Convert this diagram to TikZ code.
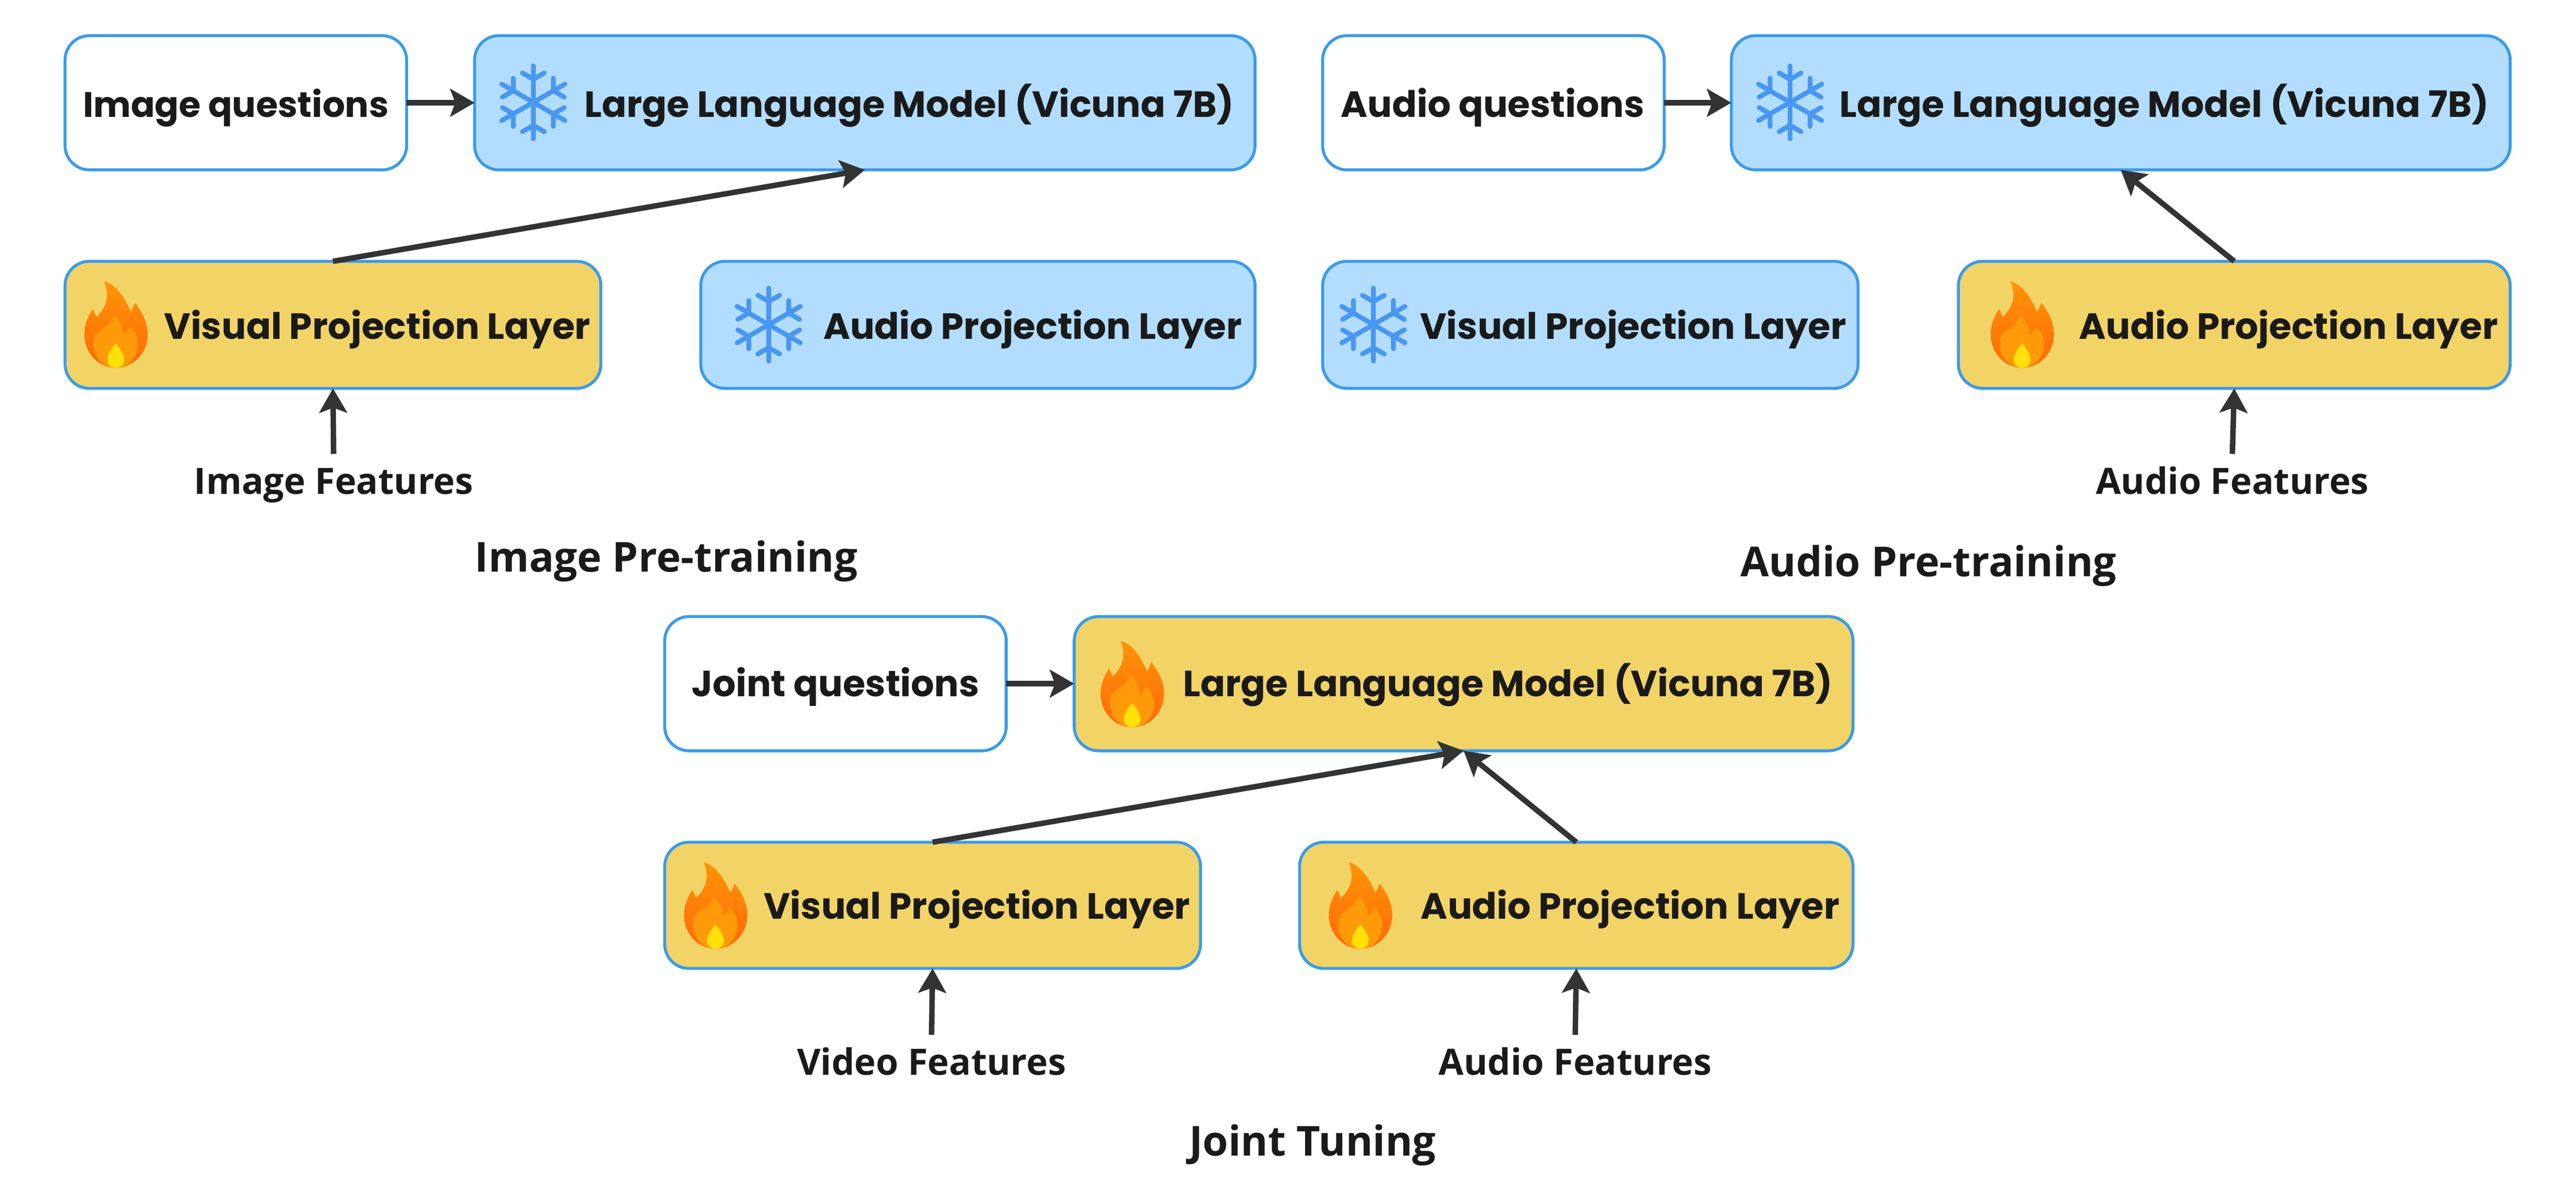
\documentclass[tikz,border=0pt]{standalone}
\usepackage{fontspec}
\usetikzlibrary{arrows.meta}
\newfontfamily\boxfont{Poppins}
\newfontfamily\capfont{Open Sans}
\definecolor{edgeblue}{HTML}{3A9BEB}
\definecolor{iceblue}{HTML}{B3DDFF}
\definecolor{flakeblue}{HTML}{4A97F2}
\definecolor{warmgold}{HTML}{F2D366}
\definecolor{arrowgray}{HTML}{333333}
\definecolor{inkblack}{HTML}{1A1A1A}
\definecolor{flametop}{HTML}{FF9408}
\definecolor{flamelow}{HTML}{FF6A08}
\definecolor{flamemid}{HTML}{FF9A0A}
\definecolor{flamecore}{HTML}{FFE008}

\tikzset{
    pics/flame/.style={code={
        \path[top color=flametop, bottom color=flamelow]
            (-.28,-1.02) .. controls (.02,-.95) and (.22,-.6) .. (.36,-.29)
            -- (.46,-.51) .. controls (.62,-.3) and (.76,-.05) .. (.76,.24)
            .. controls (.76,.7) and (.4,1.04) .. (0,1.04)
            .. controls (-.4,1.04) and (-.75,.7) .. (-.75,.24)
            .. controls (-.75,0) and (-.66,-.2) .. (-.55,-.36)
            -- (-.46,-.17) .. controls (-.3,-.33) and (-.1,-.6) .. (-.28,-1.02) -- cycle;
        \fill[flamemid]
            (-.04,-.22) .. controls (.08,-.1) and (.17,.08) .. (.2,.27)
            .. controls (.25,.18) and (.3,.1) .. (.36,.07)
            .. controls (.46,.2) and (.52,.32) .. (.52,.46)
            .. controls (.52,.8) and (.3,1.04) .. (0,1.04)
            .. controls (-.3,1.04) and (-.53,.8) .. (-.53,.46)
            .. controls (-.53,.3) and (-.48,.22) .. (-.44,.2)
            .. controls (-.3,.1) and (-.12,0) .. (-.04,-.22) -- cycle;
        \fill[flamecore]
            (0,.46) .. controls (.1,.58) and (.2,.72) .. (.2,.84)
            .. controls (.2,.97) and (.1,1.04) .. (0,1.04)
            .. controls (-.1,1.04) and (-.2,.97) .. (-.2,.84)
            .. controls (-.2,.72) and (-.1,.58) .. (0,.46) -- cycle;
    }},
    pics/flake/.style={code={
        \foreach \a in {90,150,210,270,330,30} {
            \draw[flakeblue, line width=.115cm, line cap=round, rotate=\a]
                (0,0) -- (.87,0)
                (.55,0) -- ++(60:.3)
                (.55,0) -- ++(-60:.3);
        }
    }}
}

\begin{document}
\begin{tikzpicture}[x=1cm, y=-1cm]
    \tikzstyle{plainbox}=[draw=edgeblue, line width=2pt, rounded corners=.58cm,
    anchor=west, inner sep=0pt, outer sep=0pt, fill=white]
    \tikzstyle{frozenbox}=[plainbox, fill=iceblue]
    \tikzstyle{trainbox}=[plainbox, fill=warmgold]
    \tikzstyle{boxtext}=[anchor=base, inner sep=0pt, text=inkblack,
    font=\boxfont\bfseries\fontsize{24.7}{28}\selectfont]
    \tikzstyle{feat}=[anchor=base, inner sep=0pt, text height=.95cm, text=inkblack,
    font=\capfont\bfseries\fontsize{24.6}{30}\selectfont]
    \tikzstyle{stage}=[anchor=base, inner sep=0pt, text=inkblack,
    font=\capfont\bfseries\fontsize{28}{33}\selectfont]
    \tikzstyle{arr}=[draw=arrowgray, line width=.13cm,
    -{Stealth[length=.58cm, width=.66cm, inset=.12cm]}]

    \useasboundingbox (0,0) rectangle (61.39,28.29);

    \foreach \n/\x/\y/\w/\h in {qi/1.55/2.45/8.14/3.2, qa/31.52/2.45/8.14/3.2, qj/15.84/16.30/8.14/3.2}
    \node[plainbox, minimum width=\w cm, minimum height=\h cm] (\n) at (\x,\y) {};

    \foreach \n/\x/\y/\w/\h in {llmi/11.31/2.45/18.6/3.2, llma/41.26/2.45/18.56/3.2,
        audi/16.70/7.745/13.21/3.03, visa/31.52/7.745/12.76/3.03}
    \node[frozenbox, minimum width=\w cm, minimum height=\h cm] (\n) at (\x,\y) {};

    \foreach \n/\x/\y/\w/\h in {visi/1.55/7.745/12.77/3.03, auda/46.67/7.745/13.15/3.03,
        llmj/25.60/16.30/18.56/3.2, visj/15.84/21.585/12.77/3.01, audj/30.97/21.585/13.19/3.01}
    \node[trainbox, minimum width=\w cm, minimum height=\h cm] (\n) at (\x,\y) {};

    \foreach \x/\y in {12.71/2.44, 42.66/2.44, 18.32/7.74, 32.73/7.74}
    \pic at (\x,\y) {flake};
    \foreach \x/\y in {2.76/7.73, 48.19/7.73, 26.98/16.30, 17.05/21.58, 32.42/21.58}
    \pic at (\x,\y) {flame};

    \node[boxtext, font=\boxfont\bfseries\fontsize{24}{28}\selectfont] (tqi) at (5.62,2.79) {Image questions};
    \node[boxtext] (tqa) at (35.57,2.79) {Audio questions};
    \node[boxtext] (tqj) at (19.91,16.61) {Joint questions};
    \foreach \n/\x/\y in {tlmi/21.67/2.79, tlma/51.58/2.79, tlmj/35.94/16.61}
    \node[boxtext] (\n) at (\x,\y) {Large Language Model (Vicuna 7B)};
    \foreach \n/\x/\y in {tvi/8.99/8.08, tva/38.92/8.08, tvj/23.28/21.91}
    \node[boxtext] (\n) at (\x,\y) {Visual Projection Layer};
    \foreach \n/\x/\y in {tai/24.61/8.08, taa/54.54/8.08, taj/38.85/21.91}
    \node[boxtext] (\n) at (\x,\y) {Audio Projection Layer};

    \node[feat] (fi) at (7.95,11.78) {Image Features};
    \node[feat] (fa) at (53.20,11.78) {Audio Features};
    \node[feat] (fv) at (22.20,25.63) {Video Features};
    \node[feat] (fj) at (37.54,25.63) {Audio Features};

    \node[stage] (si) at (15.88,13.64) {Image Pre-training};
    \node[stage] (sa) at (45.96,13.75) {Audio Pre-training};
    \node[stage] (sj) at (31.28,27.56) {Joint Tuning};

    \path (qi) edge[arr] (llmi);
    \path (qa) edge[arr] (llma);
    \path (qj) edge[arr] (llmj);
    \path (visi.north) edge[arr] (llmi.south);
    \path (auda.north) edge[arr] (llma.south);
    \path (visj.north) edge[arr] (llmj.south);
    \path (audj.north) edge[arr] (llmj.south);
    \path (fi.north) edge[arr] (visi.south);
    \path (fa.north) edge[arr] (auda.south);
    \path (fv.north) edge[arr] (visj.south);
    \path (fj.north) edge[arr] (audj.south);
\end{tikzpicture}
\end{document}
